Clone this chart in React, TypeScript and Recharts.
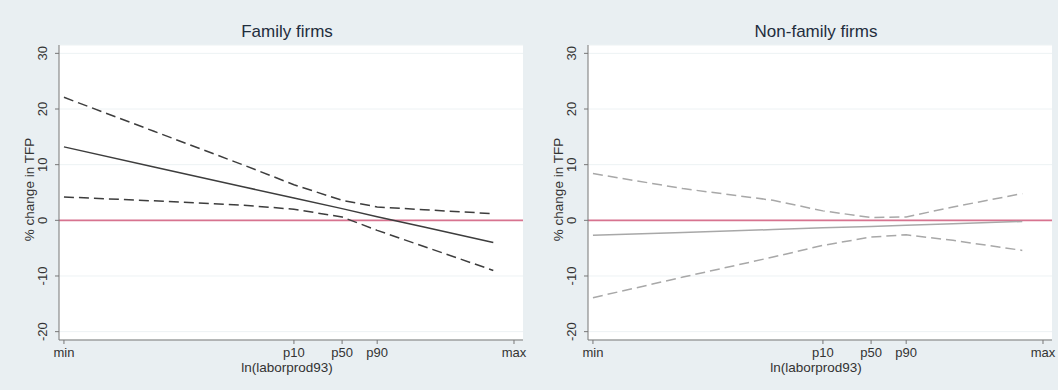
import React from 'react'
import {
  LineChart,
  Line,
  XAxis,
  YAxis,
  CartesianGrid,
  ReferenceLine,
} from 'recharts'

// x positions of the prediction points (min = 0, max = 100 on ln(laborprod93))
const xPoints = [0, 20, 40, 51.1, 61.8, 69.6, 80, 95.4]
const xTickValues = [0, 51.1, 61.8, 69.6, 100]
const xTickLabels = ['min', 'p10', 'p50', 'p90', 'max']
const yTicks = [-20, -10, 0, 10, 20, 30]

// Family firms
const famFit = [13.2, 9.6, 6.0, 4.0, 2.1, 0.65, -1.2, -4.0]
const famUpper = [22.1, 16.0, 9.9, 6.4, 3.6, 2.4, 1.9, 1.2]
const famLower = [4.2, 3.5, 2.7, 2.0, 0.6, -1.8, -4.7, -9.0]

// Non-family firms
const nonFit = [-2.7, -2.2, -1.65, -1.35, -1.1, -0.9, -0.6, -0.2]
const nonUpper = [8.4, 5.7, 3.6, 1.7, 0.5, 0.6, 2.4, 4.8]
const nonLower = [-13.9, -10.2, -6.6, -4.5, -3.0, -2.6, -3.6, -5.4]

const FONT = '"Liberation Sans", Arial, sans-serif'
const BG = '#e9eff2'

const build = (fit: number[], up: number[], lo: number[]) =>
  xPoints.map((x, i) => ({ x, fit: fit[i], up: up[i], lo: lo[i] }))

const YTick = (props: any) => {
  const { x, y, payload } = props
  const bx = x - 8
  return (
    <text
      x={bx}
      y={y}
      transform={`rotate(-90 ${bx} ${y})`}
      textAnchor="middle"
      fill="#333"
      fontSize={13}
      fontFamily={FONT}
    >
      {payload.value}
    </text>
  )
}

function Panel({
  title,
  data,
  color,
}: {
  title: string
  data: any[]
  color: string
}) {
  return (
    <div style={{ position: 'relative', width: 529, height: 390 }}>
      <div
        style={{
          position: 'absolute',
          left: 59,
          width: 456,
          top: 22,
          textAlign: 'center',
          fontFamily: FONT,
          fontSize: 17,
          color: '#1f2d3d',
        }}
      >
        {title}
      </div>
      <LineChart
        width={529}
        height={390}
        data={data}
        margin={{ top: 45, right: 6, bottom: 0, left: 0 }}
      >
        <CartesianGrid
          vertical={false}
          stroke="#edf2f4"
          fill="#ffffff"
          fillOpacity={1}
        />
        <XAxis
          dataKey="x"
          type="number"
          domain={[-1.1, 102]}
          ticks={xTickValues}
          tickFormatter={(v: number) => xTickLabels[xTickValues.indexOf(v)]}
          height={50}
          tickSize={4}
          tickMargin={4}
          stroke="#777"
          tick={{ fill: '#333', fontSize: 13, fontFamily: FONT }}
          label={(p: any) => {
            const vb = p.viewBox
            return (
              <text
                x={vb.x + vb.width / 2 - 4}
                y={vb.y + 32}
                textAnchor="middle"
                fill="#333"
                fontSize={13.5}
                fontFamily={FONT}
              >
                ln(laborprod93)
              </text>
            )
          }}
        />
        <YAxis
          type="number"
          domain={[-21.5, 31.5]}
          ticks={yTicks}
          width={59}
          tickSize={4}
          tickMargin={0}
          stroke="#777"
          tick={<YTick />}
          label={(p: any) => {
            const vb = p.viewBox
            const cx = 34
            const cy = vb.y + vb.height / 2 - 3
            return (
              <text
                x={cx}
                y={cy}
                transform={`rotate(-90 ${cx} ${cy})`}
                textAnchor="middle"
                fill="#333"
                fontSize={13.5}
                fontFamily={FONT}
              >
                % change in TFP
              </text>
            )
          }}
        />
        <ReferenceLine y={0} stroke="#d7738f" strokeWidth={1.8} />
        <Line
          dataKey="up"
          stroke={color}
          strokeWidth={1.5}
          strokeDasharray="10 5"
          dot={false}
          isAnimationActive={false}
        />
        <Line
          dataKey="lo"
          stroke={color}
          strokeWidth={1.5}
          strokeDasharray="10 5"
          dot={false}
          isAnimationActive={false}
        />
        <Line
          dataKey="fit"
          stroke={color}
          strokeWidth={1.5}
          dot={false}
          isAnimationActive={false}
        />
      </LineChart>
    </div>
  )
}

export default function App() {
  return (
    <div
      style={{
        position: 'fixed',
        left: 0,
        top: 0,
        width: 1058,
        height: 390,
        background: BG,
        display: 'flex',
      }}
    >
      <style>{`.recharts-surface { overflow: visible; } .recharts-wrapper { overflow: visible; }`}</style>
      <Panel title="Family firms" data={build(famFit, famUpper, famLower)} color="#3d3d3d" />
      <Panel
        title="Non-family firms"
        data={build(nonFit, nonUpper, nonLower)}
        color="#a8a8a8"
      />
    </div>
  )
}
